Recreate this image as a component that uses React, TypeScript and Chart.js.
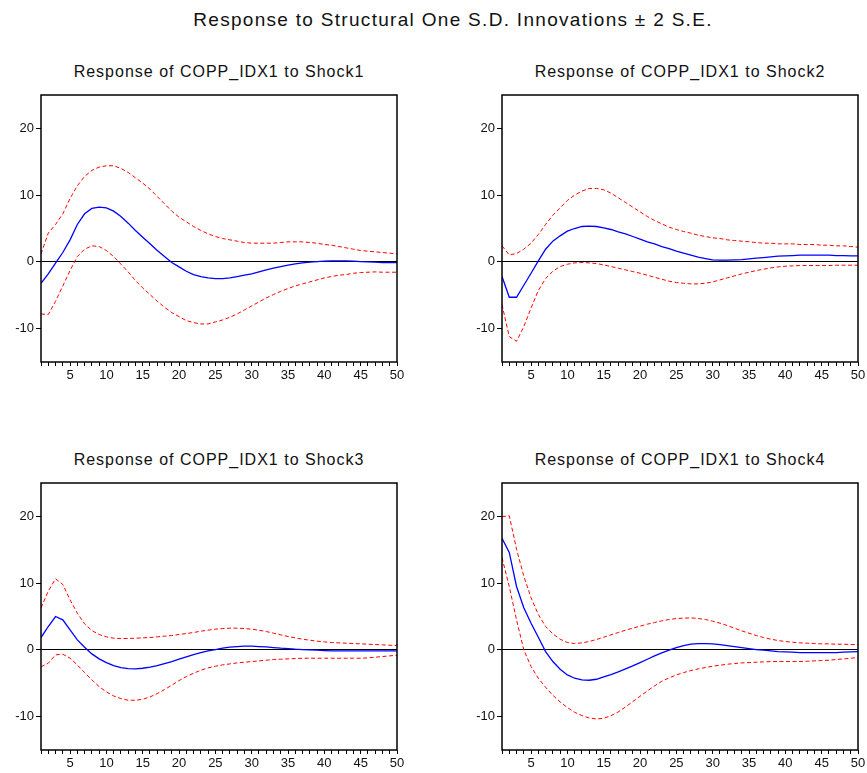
import React, { useEffect, useRef } from "react";
import { Chart, registerables } from "chart.js";

Chart.register(...registerables);

const periods = [1, 2, 3, 4, 5, 6, 7, 8, 9, 10, 11, 12, 13, 14, 15, 16, 17, 18, 19, 20, 21, 22, 23, 24, 25, 26, 27, 28, 29, 30, 31, 32, 33, 34, 35, 36, 37, 38, 39, 40, 41, 42, 43, 44, 45, 46, 47, 48, 49, 50];
const xTickLabels = [5, 10, 15, 20, 25, 30, 35, 40, 45, 50];
const yTicks = [-10, 0, 10, 20];

const mainTitle = "Response to Structural One S.D. Innovations \u00b1 2 S.E.";
const panelTitles = [
  "Response of COPP_IDX1 to Shock1",
  "Response of COPP_IDX1 to Shock2",
  "Response of COPP_IDX1 to Shock3",
  "Response of COPP_IDX1 to Shock4",
];

const shock1Resp = [-3.2, -1.8, -0.2, 1.4, 3.3, 5.6, 7.2, 8.0, 8.2, 8.1, 7.6, 6.8, 5.8, 4.7, 3.7, 2.7, 1.7, 0.8, -0.1, -0.75, -1.4, -1.9, -2.2, -2.4, -2.5, -2.5, -2.4, -2.2, -2.0, -1.8, -1.5, -1.2, -0.95, -0.7, -0.5, -0.3, -0.15, -0.05, 0.05, 0.1, 0.15, 0.15, 0.15, 0.1, 0.05, 0, -0.05, -0.1, -0.1, -0.1];
const shock1Upper = [1.2, 4.3, 5.6, 7.2, 9.5, 11.4, 12.8, 13.7, 14.2, 14.4, 14.4, 14.0, 13.4, 12.6, 11.8, 10.9, 9.8, 8.7, 7.6, 6.7, 6.0, 5.3, 4.7, 4.2, 3.8, 3.5, 3.3, 3.1, 2.9, 2.8, 2.8, 2.8, 2.8, 2.9, 3.0, 3.0, 3.0, 2.9, 2.8, 2.6, 2.5, 2.3, 2.1, 1.9, 1.7, 1.6, 1.5, 1.4, 1.3, 1.2];
const shock1Lower = [-7.8, -7.9, -5.9, -3.6, -1.3, 0.8, 1.9, 2.4, 2.3, 1.7, 0.8, -0.35, -1.5, -2.8, -3.9, -4.9, -5.9, -6.8, -7.6, -8.2, -8.8, -9.1, -9.3, -9.3, -9.0, -8.7, -8.3, -7.8, -7.2, -6.6, -6.0, -5.4, -4.9, -4.4, -4.0, -3.6, -3.3, -3.0, -2.7, -2.4, -2.2, -2.0, -1.9, -1.7, -1.6, -1.55, -1.5, -1.55, -1.55, -1.55];

const shock2Resp = [-2.2, -5.3, -5.3, -3.5, -1.7, 0.15, 1.9, 3.1, 3.9, 4.6, 5.0, 5.3, 5.35, 5.3, 5.1, 4.85, 4.5, 4.2, 3.8, 3.4, 3.0, 2.7, 2.3, 2.0, 1.6, 1.3, 1.0, 0.7, 0.5, 0.3, 0.25, 0.25, 0.3, 0.35, 0.45, 0.55, 0.65, 0.75, 0.85, 0.9, 0.95, 1.0, 1.0, 1.0, 1.0, 1.0, 0.95, 0.95, 0.9, 0.9];
const shock2Upper = [2.4, 1.05, 1.25, 1.9, 2.8, 4.1, 5.6, 7.0, 8.1, 9.2, 10.0, 10.6, 11.0, 11.0, 10.8, 10.3, 9.6, 8.9, 8.2, 7.5, 6.8, 6.2, 5.7, 5.2, 4.85, 4.55, 4.3, 4.0, 3.8, 3.6, 3.5, 3.3, 3.2, 3.1, 3.0, 2.9, 2.8, 2.8, 2.7, 2.7, 2.7, 2.6, 2.6, 2.6, 2.5, 2.5, 2.4, 2.4, 2.3, 2.2];
const shock2Lower = [-6.4, -11.2, -11.9, -9.7, -6.9, -4.3, -2.5, -1.4, -0.7, -0.35, -0.15, -0.1, -0.15, -0.25, -0.45, -0.7, -0.95, -1.2, -1.45, -1.7, -2.0, -2.3, -2.6, -2.9, -3.1, -3.2, -3.3, -3.3, -3.2, -3.0, -2.7, -2.4, -2.1, -1.8, -1.55, -1.3, -1.1, -0.9, -0.75, -0.65, -0.6, -0.55, -0.55, -0.55, -0.55, -0.55, -0.5, -0.5, -0.5, -0.5];

const shock3Resp = [1.85, 3.5, 5.0, 4.5, 3.0, 1.5, 0.4, -0.6, -1.35, -1.9, -2.35, -2.65, -2.8, -2.85, -2.75, -2.6, -2.35, -2.05, -1.75, -1.4, -1.05, -0.7, -0.4, -0.15, 0.05, 0.25, 0.4, 0.5, 0.55, 0.55, 0.5, 0.45, 0.35, 0.25, 0.2, 0.1, 0.05, 0, -0.05, -0.1, -0.15, -0.15, -0.15, -0.15, -0.15, -0.15, -0.15, -0.15, -0.15, -0.15];
const shock3Upper = [6.3, 8.8, 10.65, 9.8, 7.5, 5.5, 3.9, 2.9, 2.3, 1.95, 1.75, 1.7, 1.7, 1.75, 1.8, 1.85, 1.95, 2.05, 2.15, 2.3, 2.45, 2.6, 2.8, 2.95, 3.1, 3.2, 3.25, 3.25, 3.2, 3.1, 2.95, 2.75, 2.5, 2.25, 2.0, 1.8, 1.6, 1.45, 1.3, 1.2, 1.1, 1.05, 1.0, 0.95, 0.9, 0.85, 0.8, 0.75, 0.7, 0.65];
const shock3Lower = [-2.55, -2.0, -0.75, -0.65, -1.25, -2.25, -3.4, -4.5, -5.5, -6.3, -6.9, -7.3, -7.55, -7.55, -7.4, -7.05, -6.55, -5.95, -5.3, -4.6, -4.0, -3.5, -3.05, -2.7, -2.45, -2.25, -2.1, -1.95, -1.85, -1.75, -1.65, -1.55, -1.45, -1.4, -1.35, -1.3, -1.25, -1.25, -1.25, -1.25, -1.25, -1.25, -1.25, -1.25, -1.25, -1.2, -1.1, -1.0, -0.9, -0.8];

const shock4Resp = [16.7, 14.6, 9.5, 6.3, 4.0, 1.9, -0.25, -1.75, -2.9, -3.75, -4.25, -4.5, -4.55, -4.4, -4.05, -3.7, -3.3, -2.85, -2.4, -1.9, -1.4, -0.9, -0.45, -0.05, 0.35, 0.65, 0.85, 0.95, 0.95, 0.9, 0.8, 0.65, 0.5, 0.35, 0.2, 0.05, -0.05, -0.15, -0.25, -0.3, -0.35, -0.4, -0.4, -0.4, -0.4, -0.4, -0.4, -0.35, -0.3, -0.25];
const shock4Upper = [19.95, 20.1, 15.1, 11.05, 7.8, 5.3, 3.5, 2.4, 1.6, 1.1, 0.95, 1.05, 1.25, 1.55, 1.9, 2.25, 2.6, 2.95, 3.25, 3.55, 3.85, 4.1, 4.35, 4.55, 4.7, 4.75, 4.8, 4.7, 4.55, 4.3, 4.0, 3.65, 3.25, 2.85, 2.5, 2.15, 1.85, 1.6, 1.4, 1.25, 1.15, 1.05, 1.0, 0.95, 0.9, 0.9, 0.85, 0.85, 0.8, 0.8];
const shock4Lower = [13.8, 9.5, 4.5, 0, -2.5, -4.25, -5.6, -6.8, -7.8, -8.65, -9.35, -9.85, -10.2, -10.35, -10.25, -9.85, -9.3, -8.55, -7.75, -6.95, -6.15, -5.4, -4.7, -4.2, -3.75, -3.4, -3.1, -2.85, -2.65, -2.45, -2.3, -2.15, -2.05, -1.95, -1.9, -1.85, -1.8, -1.75, -1.75, -1.75, -1.75, -1.75, -1.7, -1.65, -1.6, -1.55, -1.45, -1.35, -1.25, -1.15];

const FONT = "'Liberation Sans', Arial, Helvetica, sans-serif";

const framePlugin = {
  id: "frame",
  afterDraw(chart: any) {
    const { ctx, chartArea: a } = chart;
    ctx.save();
    ctx.strokeStyle = "#000";
    ctx.lineWidth = 1.5;
    ctx.strokeRect(a.left, a.top, a.right - a.left, a.bottom - a.top);
    ctx.restore();
  },
};

const AXW = 41;
const AXH = 30;
const PAD = 10;
const PW = 356;
const PH = 267;

function Panel(props: { title: string; resp: number[]; upper: number[]; lower: number[]; plotLeft: number; plotTop: number }) {
  const { title, resp, upper, lower, plotLeft, plotTop } = props;
  const ref = useRef<HTMLCanvasElement>(null);

  useEffect(() => {
    if (!ref.current) return;
    const toXY = (arr: number[]) => periods.map((p, i) => ({ x: p, y: arr[i] }));
    const tickFont = { family: FONT, size: 13 };
    const chart = new Chart(ref.current, {
      type: "line",
      data: {
        datasets: [
          {
            data: toXY(upper),
            borderColor: "#ff0000",
            borderWidth: 1,
            borderDash: [4, 2.5],
            pointRadius: 0,
            tension: 0,
            fill: false,
          },
          {
            data: toXY(lower),
            borderColor: "#ff0000",
            borderWidth: 1,
            borderDash: [4, 2.5],
            pointRadius: 0,
            tension: 0,
            fill: false,
          },
          {
            data: toXY(resp),
            borderColor: "#0000ff",
            borderWidth: 1.3,
            pointRadius: 0,
            tension: 0,
            fill: false,
          },
        ],
      },
      options: {
        animation: false,
        responsive: false,
        devicePixelRatio: 1,
        layout: { padding: { top: PAD, right: PAD, left: 0, bottom: 0 } },
        plugins: {
          legend: { display: false },
          tooltip: { enabled: false },
          title: { display: false },
        },
        scales: {
          x: {
            type: "linear",
            min: 1,
            max: 50,
            afterBuildTicks: (s: any) => {
              s.ticks = periods.map((v) => ({ value: v }));
            },
            afterFit: (s: any) => {
              s.height = AXH;
              s.paddingLeft = 0;
              s.paddingRight = 0;
            },
            ticks: {
              autoSkip: false,
              maxRotation: 0,
              minRotation: 0,
              padding: 2,
              color: "#111",
              font: tickFont,
              callback: (v: any) => (xTickLabels.includes(Number(v)) ? String(v) : ""),
            },
            grid: {
              drawOnChartArea: false,
              drawTicks: true,
              tickLength: 4,
              tickColor: "#000",
              color: "#000",
            },
            border: { display: false },
          },
          y: {
            type: "linear",
            min: -15,
            max: 25,
            afterBuildTicks: (s: any) => {
              s.ticks = yTicks.map((v) => ({ value: v }));
            },
            afterFit: (s: any) => {
              s.width = AXW;
              s.paddingTop = 0;
              s.paddingBottom = 0;
            },
            ticks: {
              padding: 2,
              color: "#111",
              font: tickFont,
              callback: (v: any) => String(v),
            },
            grid: {
              drawOnChartArea: true,
              drawTicks: true,
              tickLength: 5,
              tickColor: "#000",
              lineWidth: 1,
              color: (ctx: any) => (ctx.tick && ctx.tick.value === 0 ? "#000" : "rgba(0,0,0,0)"),
            },
            border: { display: false },
          },
        },
      },
      plugins: [framePlugin],
    } as any);
    return () => chart.destroy();
  }, []);

  return (
    <>
      <div
        style={{
          position: "absolute",
          left: plotLeft,
          top: plotTop - 31,
          width: PW,
          textAlign: "center",
          fontFamily: FONT,
          fontSize: 16,
          lineHeight: "16px",
          letterSpacing: "1px",
          color: "#111",
          whiteSpace: "nowrap",
        }}
      >
        {title}
      </div>
      <canvas
        ref={ref}
        width={AXW + PW + PAD}
        height={PAD + PH + AXH}
        style={{
          position: "absolute",
          left: plotLeft - AXW,
          top: plotTop - PAD,
          width: AXW + PW + PAD,
          height: PAD + PH + AXH,
        }}
      />
    </>
  );
}

export default function App() {
  return (
    <div
      style={{
        position: "absolute",
        left: 0,
        top: 0,
        width: 867,
        height: 773,
        background: "#fff",
        overflow: "hidden",
      }}
    >
      <div
        style={{
          position: "absolute",
          left: 41,
          top: 10,
          width: 824,
          textAlign: "center",
          fontFamily: FONT,
          fontSize: 19,
          lineHeight: "19px",
          letterSpacing: "1.3px",
          color: "#111",
          whiteSpace: "nowrap",
        }}
      >
        {mainTitle}
      </div>
      <Panel title={panelTitles[0]} resp={shock1Resp} upper={shock1Upper} lower={shock1Lower} plotLeft={41} plotTop={95} />
      <Panel title={panelTitles[1]} resp={shock2Resp} upper={shock2Upper} lower={shock2Lower} plotLeft={502} plotTop={95} />
      <Panel title={panelTitles[2]} resp={shock3Resp} upper={shock3Upper} lower={shock3Lower} plotLeft={41} plotTop={483} />
      <Panel title={panelTitles[3]} resp={shock4Resp} upper={shock4Upper} lower={shock4Lower} plotLeft={502} plotTop={483} />
    </div>
  );
}
